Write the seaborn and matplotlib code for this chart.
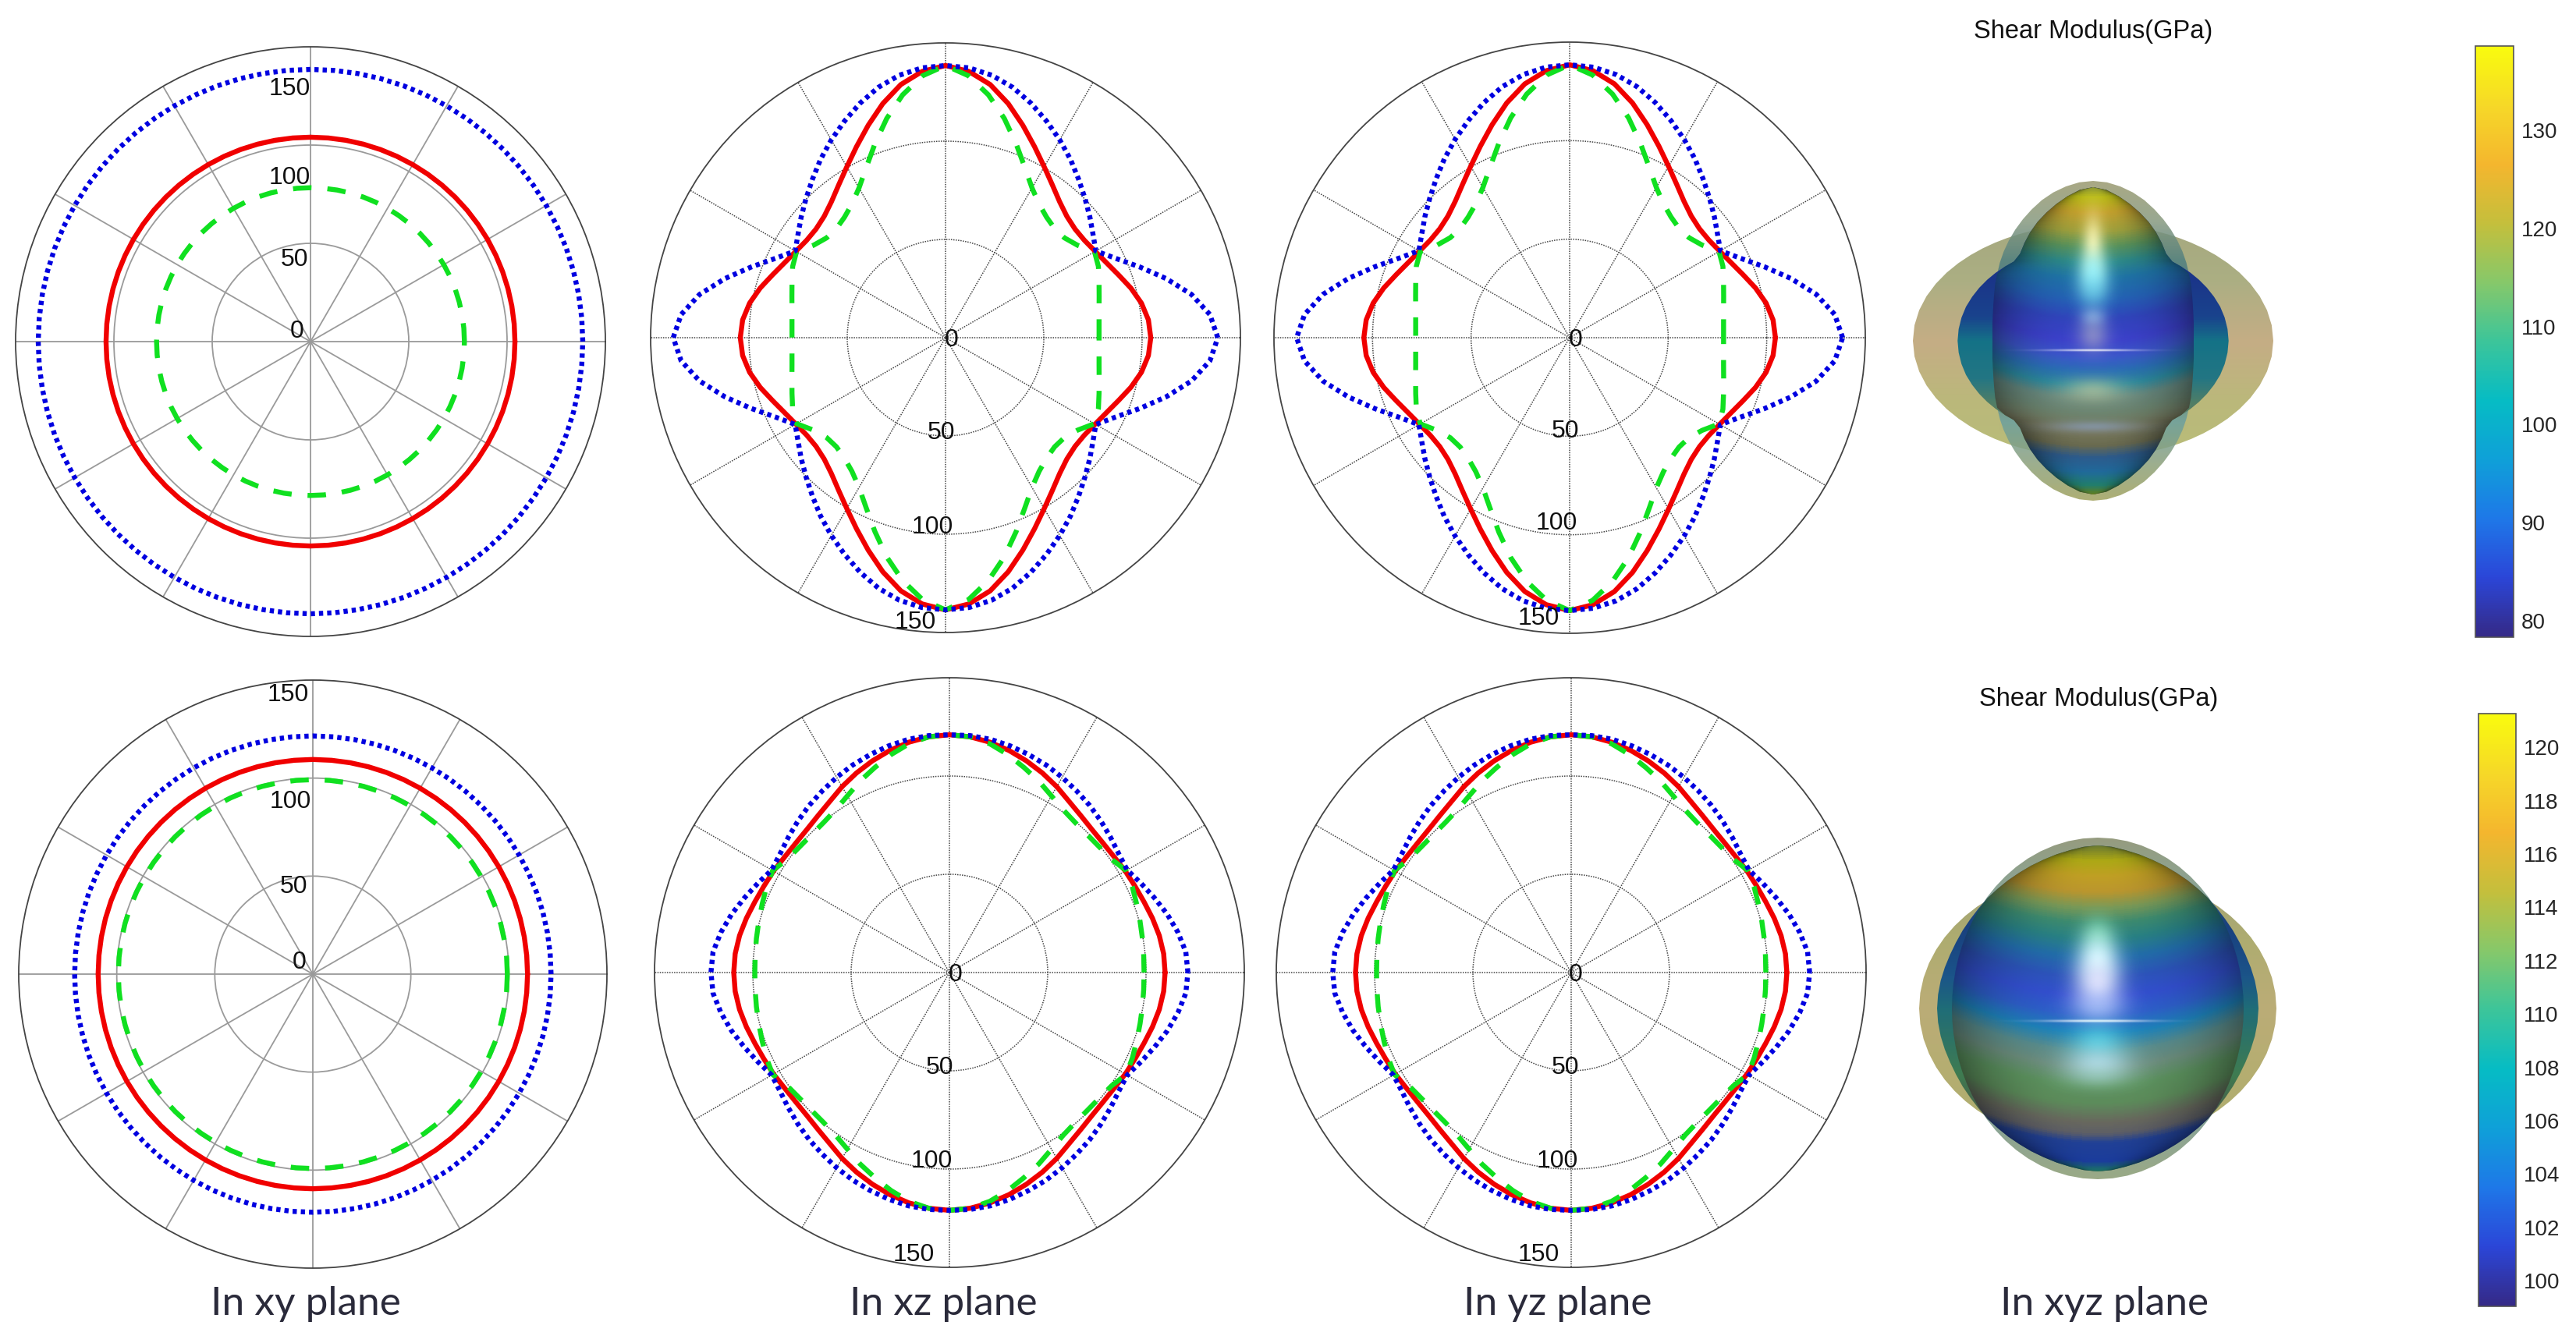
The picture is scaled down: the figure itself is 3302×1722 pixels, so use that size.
import numpy as np
import pandas as pd
import seaborn as sns
import matplotlib
matplotlib.use("Agg")
import matplotlib.pyplot as plt
from matplotlib.colors import LinearSegmentedColormap, Normalize, to_rgb
from matplotlib.cm import ScalarMappable
from matplotlib.patches import Polygon

W, H = 3302, 1722

# angle from the x axis, one quadrant, the curves are mirrored into the other three
quadrant_deg = [0, 5, 10, 15, 20, 25, 30, 35, 40, 45, 50, 55, 60, 65, 70, 75, 80, 85, 90]

# upper row (GPa)
top_xy_max = [138.5] * 19
top_xy_avg = [104.0] * 19
top_xy_min = [78.3] * 19
top_xz_max = [138.5, 135.0, 127.0, 116.2, 105.2, 95.5, 88.3, 91.6, 95.8, 100.3, 105.3, 110.8, 116.2, 121.6, 127.0, 131.9, 135.6, 137.8, 138.5]
top_xz_avg = [104.4, 103.6, 101.2, 97.6, 93.6, 90.3, 87.9, 86.3, 86.0, 87.3, 90.3, 94.8, 100.4, 107.2, 115.0, 123.3, 130.8, 136.0, 138.5]
top_xz_min = [78.1, 78.4, 79.3, 80.9, 83.1, 85.8, 87.5, 82.0, 79.0, 78.5, 80.0, 83.0, 88.0, 95.5, 105.0, 115.5, 125.5, 133.8, 138.5]

# lower row (GPa)
bot_xy_max = [121.5] * 19
bot_xy_avg = [109.5] * 19
bot_xy_min = [99.2] * 19
bot_xz_max = [121.3, 120.7, 118.0, 114.7, 111.0, 107.5, 104.4, 105.2, 107.0, 109.0, 111.0, 112.8, 114.7, 116.5, 118.0, 119.4, 120.5, 121.0, 121.0]
bot_xz_avg = [109.7, 109.4, 108.4, 106.9, 105.3, 104.1, 103.3, 102.4, 102.2, 102.7, 104.1, 106.2, 109.2, 112.0, 114.6, 117.0, 119.0, 120.4, 121.0]
bot_xz_min = [99.0, 99.2, 99.7, 100.4, 101.4, 102.7, 103.8, 100.6, 99.5, 99.2, 99.6, 101.0, 103.8, 107.5, 111.0, 114.8, 118.2, 120.4, 121.0]

# panel centre and radius in pixels
panel_geom = [(398, 438, 378), (1212, 433, 378), (2012, 433, 379),
              (401, 1249, 377), (1217, 1247, 378), (2014, 1247, 378)]
panel_curves = [(top_xy_max, top_xy_avg, top_xy_min), (top_xz_max, top_xz_avg, top_xz_min), (top_xz_max, top_xz_avg, top_xz_min),
                (bot_xy_max, bot_xy_avg, bot_xy_min), (bot_xz_max, bot_xz_avg, bot_xz_min), (bot_xz_max, bot_xz_avg, bot_xz_min)]
r_tick_text = ["0", "50", "100", "150"]
# pixel offset of those labels from the centre of each panel (right, up)
r_tick_offset = [
    [(-17, 13), (-21, 105), (-27, 210), (-27, 324)],
    [(8, -3), (-5, -122), (-17, -243), (-39, -365)],
    [(8, -3), (-6, -120), (-17, -238), (-40, -360)],
    [(-17, 15), (-25, 112), (-29, 221), (-32, 358)],
    [(8, -3), (-13, -122), (-23, -242), (-46, -362)],
    [(6, -3), (-8, -122), (-18, -242), (-42, -362)],
]

plane_names = ["In xy plane", "In xz plane", "In yz plane", "In xyz plane"]
plane_x = [392, 1209, 1997, 2698]
title_text = "Shear Modulus(GPa)"

parula = ["#352a87", "#2b46d8", "#1e78e8", "#0fa0d8", "#06bcc4", "#3cc59a", "#86c86a", "#c4bf3c", "#f4b62e", "#f6d828", "#f9fb0e"]

cbar_rect = [(3173, 59, 49, 758), (3177, 915, 48, 760)]
cbar_range = [(78.3, 138.6), (99.04, 121.26)]
cbar_ticks = [[80, 90, 100, 110, 120, 130], [100, 102, 104, 106, 108, 110, 112, 114, 116, 118, 120]]

# 3D views, painted as shells: outline radii in pixels per quadrant angle, colours read row by row
blob1_center = (2683, 437)
blob1_lobe = (231, 150)
blob1_tall = [129, 129.5, 131, 133, 136, 140, 145, 150, 156, 162, 168, 174, 180, 186, 192, 197, 201, 204, 205]
blob1_body = [173.7, 173, 171.3, 168.7, 165, 161, 156.7, 152.3, 147.8, 143.7, 145.7, 153.3, 161, 168.3, 175, 181.7, 188.3, 194.3, 197]
blob1_lobe_rows = ["#a0a478", "#a8ab7c", "#c2a97e", "#b8b474", "#b4bb72"]
blob1_tall_rows = ["#9a9a6e", "#87997e", "#4f7f80", "#4a7080", "#4a7888", "#5f7a60", "#6b9fa0", "#8aa07c", "#a0a05a"]
blob1_ring_rows = [(0, "#1a3070"), (0.3, "#14308a"), (0.42, "#123e8e"), (0.5, "#0c7088"), (0.62, "#1c7484"), (0.7, "#4c7c66"), (0.8, "#62704c"), (1, "#60704c")]
blob1_core_rows = [(0, "#8f9a30"), (0.034, "#c4c412"), (0.085, "#cfa92a"), (0.144, "#a8a83a"), (0.195, "#5e9a5a"), (0.245, "#2f8f8a"),
                   (0.296, "#2078a8"), (0.364, "#2565b8"), (0.431, "#3345c0"), (0.499, "#3f3fd0"), (0.55, "#3f55d0"), (0.6, "#2b70b8"),
                   (0.643, "#2d8aa0"), (0.685, "#6a8a80"), (0.736, "#6f8570"), (0.787, "#7a7a5f"), (0.838, "#6a6a50"), (0.876, "#2a5a90"),
                   (0.922, "#1d6aa0"), (0.964, "#1e7f70"), (1, "#6a7f10")]
blob1_glow = [(0, -124, 9, 26, 0.9, "#fff2a8"), (0, -87, 13, 22, 0.9, "#b0ffff"), (0, -67, 14, 18, 0.5, "#60d0f0"),
              (0, -30, 11, 9, 0.55, "#a0d0f0"), (0, -7, 14, 15, 0.6, "#b0b0c8"), (0, 12, 40, 1, 0.8, "#ffffff"),
              (0, 63, 28, 11, 0.6, "#c8d0a0"), (0, 110, 40, 5, 0.5, "#90a8d8")]

blob2_center = (2689, 1293)
blob2_lobe = (229, 177)
blob2_tall = (187, 219)
blob2_body = [206, 205.5, 204.5, 203, 201.5, 200.5, 200, 199.5, 199.5, 200, 200, 200.5, 201, 202, 203, 204.5, 206, 208, 209]
blob2_lobe_rows = ["#9a9a70", "#aaa868", "#b8a870", "#b0aa68", "#a8a868"]
blob2_tall_rows = ["#8a9070", "#7f9a88", "#6f9aa8", "#5a8a9c", "#5a8a9c", "#6f9aa8", "#7f9a88", "#90a078"]
blob2_ring_rows = [(0, "#3a6a6a"), (0.25, "#123c80"), (0.4, "#14508a"), (0.5, "#186a78"), (0.7, "#3a7a50"), (0.85, "#465046"), (1, "#2a6a6a")]
blob2_core_rows = [(0, "#6a7830"), (0.048, "#b4ad10"), (0.096, "#c9a320"), (0.143, "#c49a2a"), (0.191, "#7f9e55"), (0.239, "#3f9070"),
                   (0.287, "#2a8585"), (0.343, "#2370ad"), (0.406, "#2f55c0"), (0.462, "#3550d5"), (0.518, "#2f60d0"), (0.574, "#1e85c0"),
                   (0.629, "#5e9090"), (0.677, "#709080"), (0.733, "#5f9560"), (0.789, "#5f8f5c"), (0.845, "#6a6a60"), (0.88, "#606068"),
                   (0.908, "#20409a"), (0.964, "#1a3aa0"), (0.988, "#1a6a70"), (1, "#2a7a50")]
blob2_glow = [(0, -93, 14, 16, 0.6, "#90f0c0"), (0, -63, 17, 22, 0.95, "#d0ffff"), (0, -33, 20, 25, 0.9, "#e8e8ff"),
              (0, -3, 24, 14, 0.6, "#b0c8ff"), (0, 16, 45, 1.2, 0.9, "#ffffff"), (0, 44, 24, 16, 0.7, "#60e0f0"),
              (0, 71, 30, 15, 0.75, "#c0e8f8"), (0, 87, 28, 10, 0.4, "#a0d8c8")]


def full_circle(values):
    deg = np.array(quadrant_deg, dtype=float)
    vals = np.array(values, dtype=float)
    theta = np.concatenate([deg, 180 - deg[::-1][1:], 180 + deg[1:], 360 - deg[::-1][1:]])
    radius = np.concatenate([vals, vals[::-1][1:], vals[1:], vals[::-1][1:]])
    return theta, radius


def curve_table(curves):
    rows = []
    for name, values in zip(["max", "avg", "min"], curves):
        theta, radius = full_circle(values)
        rows.append(pd.DataFrame({"theta": np.radians(theta), "modulus": radius, "series": name}))
    return pd.concat(rows, ignore_index=True)


def draw_polar(fig, geom, curves, offsets, plane_xy):
    cx, cy, rad = geom
    ax = fig.add_axes([(cx - rad) / W, 1 - (cy + rad) / H, 2 * rad / W, 2 * rad / H], projection="polar")
    ax.patch.set_alpha(0)
    sns.lineplot(data=curve_table(curves), x="theta", y="modulus", hue="series", style="series",
                 hue_order=["avg", "min", "max"], style_order=["avg", "min", "max"],
                 palette={"max": "#0000e0", "avg": "#f00000", "min": "#10e020"},
                 dashes={"max": (0.85, 0.8), "avg": "", "min": (3.7, 3.2)},
                 estimator=None, sort=False, linewidth=4.6, legend=False, ax=ax)
    ax.set_xlabel("")
    ax.set_ylabel("")
    ax.set_rlim(0, 150)
    ax.set_xticks(np.radians(np.arange(0, 360, 30)))
    ax.set_xticklabels([])
    ax.set_rticks([50, 100])
    ax.set_yticklabels([])
    if plane_xy:
        ax.grid(True, color="#9a9a9a", linewidth=1.3, linestyle="-")
    else:
        ax.grid(True, color="#444444", linewidth=1.1, linestyle=(0, (1, 1)))
    ax.spines["polar"].set_color("#444444")
    ax.spines["polar"].set_linewidth(1.3)
    for text, off in zip(r_tick_text, offsets):
        ax.annotate(text, xy=(0, 0), xytext=off, textcoords="offset pixels", ha="center", va="center",
                    fontsize=23, color="#111111", zorder=6)
    return ax


def ellipse_radii(a, b):
    t = np.radians(quadrant_deg)
    return a * b / np.sqrt((b * np.cos(t)) ** 2 + (a * np.sin(t)) ** 2)


def draw_shell(ax, center, radii, rows, alpha, shade=0.0, power=4, bend=0):
    cx, cy = center
    theta, radius = full_circle(radii)
    xs = cx + radius * np.cos(np.radians(theta))
    ys = cy - radius * np.sin(np.radians(theta))
    left, right = int(xs.min()) - 2, int(xs.max()) + 3
    top, bottom = int(ys.min()) - 2, int(ys.max()) + 3
    gx, gy = np.meshgrid(np.arange(left, right) + 0.5, np.arange(top, bottom) + 0.5)
    n = gx.shape[0]
    row_rgb = LinearSegmentedColormap.from_list("rows", rows)(np.linspace(0, 1, n))[:, :3]
    # horizontal position inside the outline on every row
    angle = np.degrees(np.arctan2(cy - gy, gx - cx)) % 360
    inside = np.hypot(gx - cx, gy - cy) < np.interp(angle, theta, radius)
    half = np.maximum((np.abs(gx - cx) * inside).max(axis=1, keepdims=True), 1)
    rho = np.clip(np.abs(gx - cx) / half, 0, 1)
    # colour bands curve upwards to the sides, and the sides are darker
    idx = np.clip((gy - top + bend * (np.abs(gx - cx) / half.max()) ** 2).astype(int), 0, n - 1)
    rgb = row_rgb[idx] * (1 - shade * rho ** power)[..., None]
    rgba = np.dstack([rgb, np.full(gx.shape, alpha)])
    im = ax.imshow(rgba, extent=(left, right, bottom, top), aspect="auto", interpolation="bilinear", zorder=2)
    clip = Polygon(np.column_stack([xs, ys]), closed=True, transform=ax.transData)
    im.set_clip_path(clip)


def draw_glow(ax, center, glows):
    cx, cy = center
    for dx, dy, sx, sy, strength, color in glows:
        left, right = int(cx + dx - 3 * sx) - 1, int(cx + dx + 3 * sx) + 2
        top, bottom = int(cy + dy - 3 * sy) - 1, int(cy + dy + 3 * sy) + 2
        gx, gy = np.meshgrid(np.arange(left, right) + 0.5, np.arange(top, bottom) + 0.5)
        a = strength * np.exp(-0.5 * (((gx - cx - dx) / sx) ** 2 + ((gy - cy - dy) / sy) ** 2))
        rgba = np.zeros(gx.shape + (4,))
        rgba[..., :3] = to_rgb(color)
        rgba[..., 3] = a
        ax.imshow(rgba, extent=(left, right, bottom, top), aspect="auto", interpolation="bilinear", zorder=3)


def draw_colorbar(fig, rect, vrange, ticks, cmap):
    x, y, w, h = rect
    cax = fig.add_axes([x / W, 1 - (y + h) / H, w / W, h / H])
    sm = ScalarMappable(norm=Normalize(*vrange), cmap=cmap)
    cb = fig.colorbar(sm, cax=cax, ticks=ticks)
    cb.outline.set_edgecolor("#555555")
    cb.outline.set_linewidth(1.2)
    cb.ax.tick_params(length=8, width=1.2, direction="in", color="#333333", labelsize=20, labelcolor="#262626", pad=7)


def main():
    sns.set_style("white")
    plt.rcParams["font.family"] = ["Liberation Sans", "DejaVu Sans"]
    fig = plt.figure(figsize=(W / 100, H / 100), dpi=100, facecolor="white")

    canvas = fig.add_axes([0, 0, 1, 1], zorder=0)
    canvas.set_axis_off()

    # upper 3D view
    tall1 = np.array(blob1_tall)
    body1 = np.array(blob1_body)
    draw_shell(canvas, blob1_center, ellipse_radii(*blob1_lobe), blob1_lobe_rows, 0.95)
    draw_shell(canvas, blob1_center, tall1, blob1_tall_rows, 0.85)
    draw_shell(canvas, blob1_center, body1, blob1_ring_rows, 0.96)
    draw_shell(canvas, blob1_center, np.minimum(tall1, body1), blob1_core_rows, 0.95, shade=0.4, power=3, bend=25)
    draw_glow(canvas, blob1_center, blob1_glow)

    # lower 3D view
    tall2 = ellipse_radii(*blob2_tall)
    body2 = np.array(blob2_body)
    draw_shell(canvas, blob2_center, ellipse_radii(*blob2_lobe), blob2_lobe_rows, 0.95)
    draw_shell(canvas, blob2_center, tall2, blob2_tall_rows, 0.9)
    draw_shell(canvas, blob2_center, body2, blob2_ring_rows, 0.96)
    draw_shell(canvas, blob2_center, np.minimum(tall2, body2), blob2_core_rows, 0.95, shade=0.4, power=3, bend=45)
    draw_glow(canvas, blob2_center, blob2_glow)

    canvas.set_xlim(0, W)
    canvas.set_ylim(H, 0)

    canvas.text(2683, 41, title_text, ha="center", va="center", fontsize=23.5, color="#111111")
    canvas.text(2690, 896, title_text, ha="center", va="center", fontsize=23.5, color="#111111")
    for name, x in zip(plane_names, plane_x):
        canvas.text(x, 1672, name, ha="center", va="center", fontsize=37, color="#2a2a3a",
                    family=["Lato", "DejaVu Sans"])

    for i, geom in enumerate(panel_geom):
        draw_polar(fig, geom, panel_curves[i], r_tick_offset[i], i in (0, 3))

    cmap = LinearSegmentedColormap.from_list("parula_like", parula)
    for rect, vrange, ticks in zip(cbar_rect, cbar_range, cbar_ticks):
        draw_colorbar(fig, rect, vrange, ticks, cmap)

    fig.savefig("out.png", dpi=100, facecolor="white")


if __name__ == "__main__":
    main()
